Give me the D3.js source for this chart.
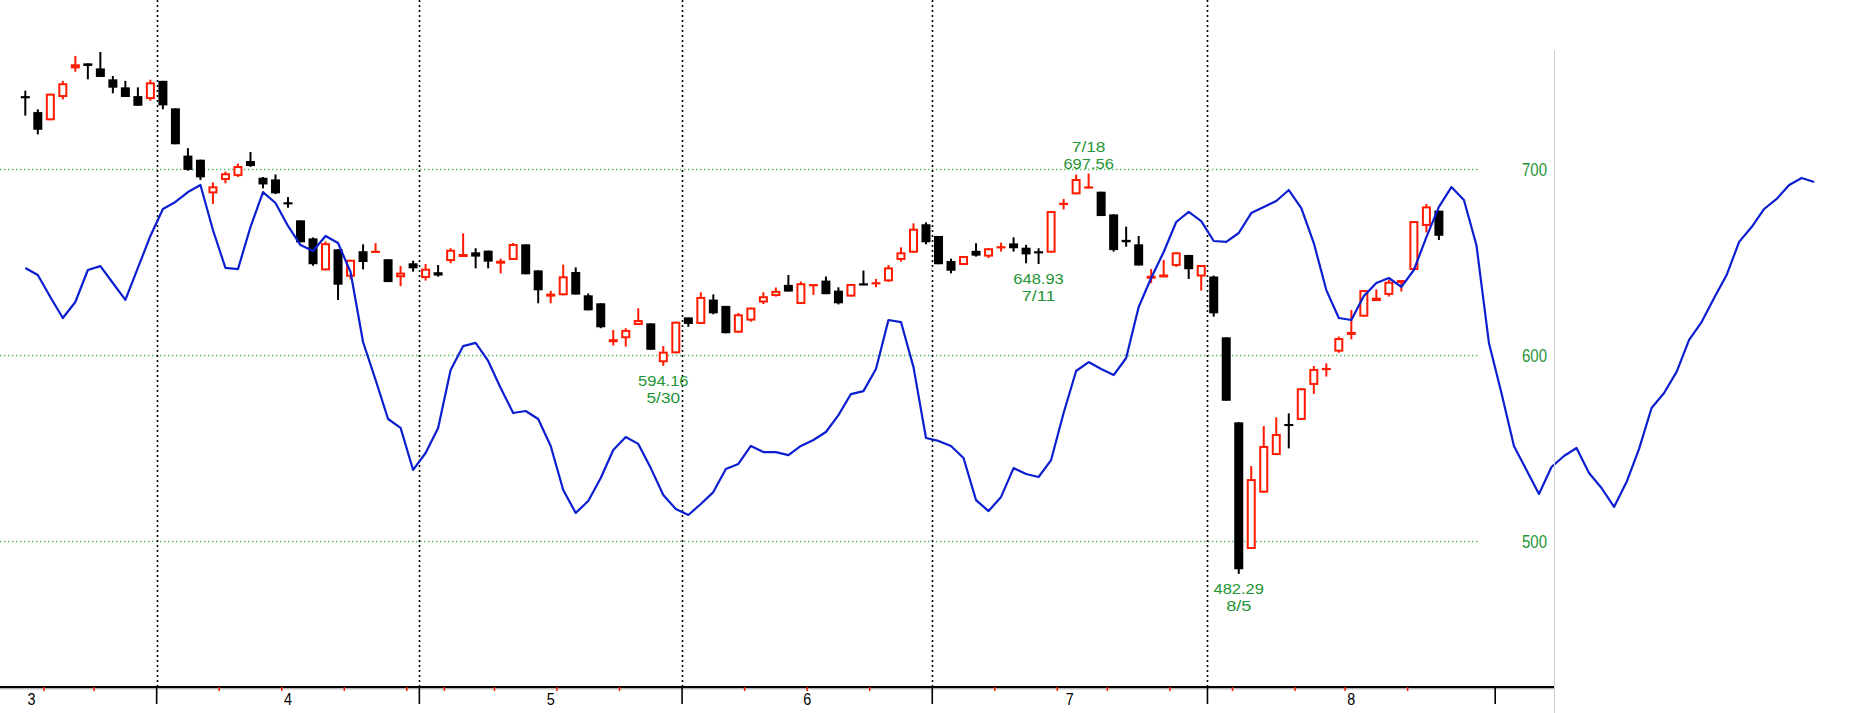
<!DOCTYPE html>
<html>
<head>
<meta charset="utf-8">
<script src="https://cdn.jsdelivr.net/npm/d3@7"></script>
<style>
  html, body { margin: 0; padding: 0; background: #fff; overflow: hidden; }
  svg { display: block; }
  .lbl { font-family: "Liberation Sans", Arial, sans-serif; }
</style>
</head>
<body>
<div id="chart"></div>
<script>

// daily candles [open, high, low, close], 2024-03-14 .. 2024-08-28
var candles = [
  [738.8,742.1,728.7,738.4],[730.6,732.1,718.6,721.1],[726.2,740.5,726.2,740.5],[738.7,747.4,737.4,746.1],
  [754.1,760.8,752.3,756.3],[756.8,756.8,748.2,755.4],[754.1,762.9,749.5,749.5],[748.2,750.0,740.7,743.7],
  [743.9,747.4,738.7,738.7],[739.2,743.9,734.0,734.0],[737.6,748.0,736.7,746.6],[747.4,747.4,732.1,734.2],
  [732.6,732.6,713.3,713.3],[707.2,711.2,699.1,699.5],[705.0,705.0,694.1,695.5],[686.9,692.8,681.2,690.7],
  [694.1,698.6,692.3,697.7],[696.2,702.9,695.7,701.6],[704.3,709.1,701.1,701.6],[695.3,695.7,689.6,691.7],
  [694.4,697.1,686.5,686.9],[681.9,684.9,679.2,681.2],[672.4,672.4,660.6,660.6],[662.7,663.2,648.0,648.8],
  [645.5,661.0,645.5,660.1],[656.8,657.0,629.6,637.8],[642.1,651.2,640.7,651.2],[655.8,659.5,646.0,650.0],
  [655.0,660.1,655.0,655.9],[651.5,651.5,639.2,639.2],[641.8,647.9,637.0,644.3],[649.3,650.7,644.8,646.6],
  [641.4,648.9,640.0,646.4],[644.5,648.4,642.1,642.7],[650.5,657.4,649.3,656.6],[653.2,665.4,653.2,654.3],
  [655.2,657.4,646.6,652.9],[656.1,656.1,646.6,650.2],[649.3,651.8,643.9,650.7],[651.1,660.2,651.1,659.7],
  [659.5,659.5,643.4,643.4],[645.5,645.5,627.8,634.8],[631.4,634.5,627.8,633.0],[632.1,648.6,632.1,642.3],
  [644.6,647.1,632.5,632.5],[632.1,633.1,624.0,624.0],[627.8,627.8,614.4,614.9],[607.4,613.5,605.1,608.5],
  [609.0,614.4,604.5,613.5],[616.1,625.1,616.1,618.8],[617.0,617.0,602.8,602.8],[596.1,604.8,594.16,601.8],
  [600.9,617.9,600.9,617.9],[620.2,620.2,615.2,616.7],[616.7,633.7,616.7,631.2],[629.8,632.6,621.9,622.4],
  [626.4,626.4,611.7,611.7],[612.0,622.6,612.0,621.9],[618.5,625.5,617.9,625.5],[628.2,633.7,627.4,631.6],
  [631.7,636.3,631.4,634.5],[637.7,643.0,634.1,634.1],[627.4,639.5,627.4,638.6],[637.1,638.0,632.3,638.0],
  [640.0,642.2,632.7,632.7],[634.6,636.4,627.2,627.8],[631.4,638.2,631.4,638.2],[638.4,645.4,637.5,637.5],
  [638.2,640.9,636.4,638.9],[639.6,648.4,639.3,647.1],[651.1,657.9,650.2,655.2],[655.0,670.8,655.0,667.9],
  [670.3,671.3,659.5,660.6],[664.0,664.0,648.8,648.8],[650.5,651.8,643.9,645.3],[648.4,653.2,648.4,653.2],
  [656.0,660.1,652.9,653.4],[652.9,657.4,652.1,657.4],[657.7,660.4,655.6,658.1],[660.0,663.3,655.6,657.4],
  [657.7,659.2,649.3,654.1],[655.4,657.4,648.93,655.0],[655.0,677.4,655.0,677.4],[680.9,683.9,678.3,681.6],
  [686.4,697.0,686.4,694.6],[689.6,697.56,689.6,690.5],[687.8,687.8,674.7,674.7],[675.6,675.6,655.6,656.4],
  [661.9,669.0,658.2,660.6],[659.5,664.0,648.1,648.1],[641.3,646.2,638.6,642.6],[642.2,651.1,642.2,643.3],
  [647.9,655.2,647.4,655.2],[653.8,653.8,640.9,646.1],[642.2,648.4,634.6,648.4],[642.2,642.7,620.6,622.4],
  [609.5,609.5,575.4,575.4],[563.8,563.8,482.29,484.8],[495.7,540.3,495.7,533.3],[526.0,561.8,526.0,551.1],
  [546.2,566.5,546.2,557.5],[562.9,568.6,549.8,561.8],[565.1,582.1,565.1,582.1],[583.9,594.1,579.1,592.5],
  [592.0,595.5,588.4,592.9],[601.8,609.9,601.2,609.1],[610.9,624.2,608.4,612.4],[620.6,634.9,620.6,634.9],
  [629.0,635.3,629.0,630.8],[632.3,640.3,631.4,639.4],[639.2,640.3,634.1,640.3],[645.7,672.0,645.7,672.0],
  [669.4,681.2,665.9,679.9],[677.6,677.6,661.8,664.1]
];

// blue comparison line, one value per day slot (runs past the last candle)
var blueLine = [
  646.8,643.0,631.2,619.9,628.5,645.7,647.8,638.7,629.6,646.8,
  664.0,678.5,682.3,687.6,691.4,667.2,646.8,646.2,668.8,687.6,
  681.7,669.4,659.1,655.9,664.0,660.2,644.6,607.0,586.6,565.6,
  560.8,538.2,547.3,560.8,591.9,604.8,606.5,596.8,582.3,568.8,
  569.9,565.6,551.1,527.4,515.1,521.5,533.9,548.9,555.9,552.2,
  539.2,524.7,517.2,514.0,519.9,526.3,538.7,541.4,551.1,547.8,
  547.8,546.2,551.1,554.3,558.6,567.7,579.0,580.6,592.5,618.8,
  617.7,593.5,555.4,553.8,551.1,544.6,522.0,516.1,523.7,539.2,
  536.0,534.4,543.5,568.8,591.4,596.2,592.5,589.2,598.4,625.8,
  641.4,655.4,671.5,676.9,672.0,661.3,660.8,665.6,676.3,679.6,
  682.8,688.7,679.0,660.2,634.9,619.9,618.8,631.7,638.7,641.4,
  636.6,645.7,663.4,679.6,690.3,683.3,659.1,606.5,579.6,551.1,
  538.2,525.3,539.8,545.7,550.0,536.6,528.5,518.3,531.7,549.5,
  571.5,579.6,590.9,608.1,617.7,630.6,643.0,660.8,668.8,678.5,
  683.9,691.4,695.2,693.0
];

var priceTicks = [500, 600, 700];

// first day slot of each month (march starts before the visible range)
var monthStarts = [-9, 11, 32, 53, 73, 95, 118];
var monthLabels = ["3", "4", "5", "6", "7", "8"];
var weekStarts = [2, 6, 16, 21, 26, 31, 34, 38, 43, 48, 58, 63, 68, 78, 83, 87, 92, 97, 102, 106, 111];

// marked highs / lows
var notes = [
  {i: 51, value: 594.16, date: "5/30", side: "below"},
  {i: 81, value: 648.93, date: "7/11", side: "below"},
  {i: 85, value: 697.56, date: "7/18", side: "above"},
  {i: 97, value: 482.29, date: "8/5", side: "below"}
];

var W = 1859, H = 713;
var axisY = 687, panelRight = 1554;

var svg = d3.select("#chart").append("svg")
    .attr("width", W)
    .attr("height", H);

var x = d3.scaleLinear().domain([0, 113]).range([25.3, 1438.9]);
var y = d3.scaleLinear().domain([500, 700]).range([541, 169]);

var green = "#1f9436", red = "#ff1a00";

// horizontal price grid
svg.selectAll(".hgrid")
    .data(priceTicks)
  .enter().append("line")
    .attr("x1", 0).attr("x2", 1478)
    .attr("y1", function(d) { return Math.round(y(d)) + 0.5; })
    .attr("y2", function(d) { return Math.round(y(d)) + 0.5; })
    .attr("stroke", "#55bb66")
    .attr("stroke-width", 1.4)
    .attr("stroke-dasharray", "1.4,2.6");

// month separators
svg.selectAll(".vgrid")
    .data(monthStarts.slice(1, 6))
  .enter().append("line")
    .attr("x1", function(d) { return Math.round(x(d - 0.5)) + 0.5; })
    .attr("x2", function(d) { return Math.round(x(d - 0.5)) + 0.5; })
    .attr("y1", 0).attr("y2", axisY)
    .attr("stroke", "#000")
    .attr("stroke-width", 1.6)
    .attr("stroke-dasharray", "2,3");

// right price labels
svg.selectAll(".ylab")
    .data(priceTicks)
  .enter().append("text")
    .attr("class", "lbl")
    .attr("x", 1522)
    .attr("y", function(d) { return y(d) + 6.5; })
    .attr("textLength", 25)
    .attr("lengthAdjust", "spacingAndGlyphs")
    .style("font-size", "18px")
    .style("fill", green)
    .text(function(d) { return d; });

// candles
var bodyW = 9;
var cg = svg.append("g");

candles.forEach(function(d, i) {
  var o = d[0], h = d[1], l = d[2], c = d[3];
  var up = c >= o;
  var col = up ? red : "#000";
  var cx = x(i);

  cg.append("line")
      .attr("x1", cx).attr("x2", cx)
      .attr("y1", y(h)).attr("y2", y(l))
      .attr("stroke", col)
      .attr("stroke-width", 2);

  var top = y(Math.max(o, c)), bot = y(Math.min(o, c));
  if (bot - top < 2) {
    cg.append("line")
        .attr("x1", cx - bodyW / 2).attr("x2", cx + bodyW / 2)
        .attr("y1", (top + bot) / 2).attr("y2", (top + bot) / 2)
        .attr("stroke", col)
        .attr("stroke-width", 2.2);
  } else if (up) {
    cg.append("rect")
        .attr("x", cx - bodyW / 2 + 1).attr("width", bodyW - 2)
        .attr("y", top + 1).attr("height", Math.max(bot - top - 2, 1))
        .attr("fill", "#fff")
        .attr("stroke", col)
        .attr("stroke-width", 2);
  } else {
    cg.append("rect")
        .attr("x", cx - bodyW / 2).attr("width", bodyW)
        .attr("y", top).attr("height", bot - top)
        .attr("fill", "#000");
  }
});

// blue line on top of the candles
var valueline = d3.line()
    .x(function(d, i) { return x(i); })
    .y(function(d) { return y(d); });

svg.append("path")
    .datum(blueLine)
    .attr("d", valueline)
    .attr("fill", "none")
    .attr("stroke", "#0c1fd0")
    .attr("stroke-width", 2.2)
    .attr("stroke-linejoin", "round");

// high/low annotations, two stacked lines each
var lineGap = 17;
notes.forEach(function(n) {
  var lines = n.side == "below" ? [n.value.toFixed(2), n.date] : [n.date, n.value.toFixed(2)];
  var base = n.side == "below" ? y(n.value) + 20 : y(n.value) - 5 - lineGap;
  lines.forEach(function(t, k) {
    svg.append("text")
        .attr("class", "lbl")
        .attr("x", x(n.i))
        .attr("y", base + k * lineGap)
        .attr("text-anchor", "middle")
        .attr("textLength", t.length * 8.4)
        .attr("lengthAdjust", "spacingAndGlyphs")
        .style("font-size", "15px")
        .style("fill", green)
        .text(t);
  });
});

// panel divider on the right
svg.append("line")
    .attr("x1", panelRight + 0.5).attr("x2", panelRight + 0.5)
    .attr("y1", 50).attr("y2", H)
    .attr("stroke", "#cfcfcf")
    .attr("stroke-width", 1);

// bottom time axis
svg.append("line")
    .attr("x1", 0).attr("x2", panelRight)
    .attr("y1", axisY).attr("y2", axisY)
    .attr("stroke", "#000")
    .attr("stroke-width", 2);
svg.append("line")
    .attr("x1", 0).attr("x2", panelRight)
    .attr("y1", axisY + 1.8).attr("y2", axisY + 1.8)
    .attr("stroke", "#9a9a9a")
    .attr("stroke-width", 1);

svg.selectAll(".wtick")
    .data(weekStarts)
  .enter().append("line")
    .attr("x1", function(d) { return x(d - 0.5); })
    .attr("x2", function(d) { return x(d - 0.5); })
    .attr("y1", axisY).attr("y2", axisY + 4)
    .attr("stroke", red)
    .attr("stroke-width", 1.5);

svg.selectAll(".mtick")
    .data(monthStarts.slice(1))
  .enter().append("line")
    .attr("x1", function(d) { return x(d - 0.5); })
    .attr("x2", function(d) { return x(d - 0.5); })
    .attr("y1", axisY).attr("y2", axisY + 17)
    .attr("stroke", "#000")
    .attr("stroke-width", 1.6);

svg.selectAll(".mlab")
    .data(monthLabels)
  .enter().append("text")
    .attr("class", "lbl")
    .attr("x", function(d, k) { return x((monthStarts[k] + monthStarts[k + 1] - 1) / 2); })
    .attr("y", axisY + 18)
    .attr("text-anchor", "middle")
    .attr("textLength", 8)
    .attr("lengthAdjust", "spacingAndGlyphs")
    .style("font-size", "17px")
    .style("fill", "#000")
    .text(function(d) { return d; });

</script>
</body>
</html>
